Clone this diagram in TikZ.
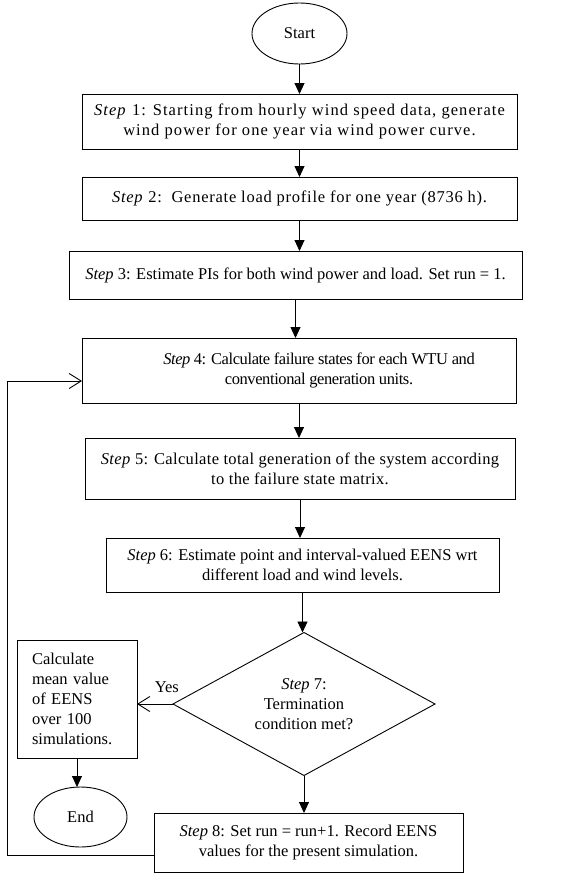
\documentclass[tikz,border=0pt]{standalone}
\usepackage{fontspec}
\setmainfont{Liberation Serif}
\usetikzlibrary{shapes.geometric,arrows.meta}
\begin{document}
\begin{tikzpicture}[x=1pt,y=-1pt,
  every node/.style={inner sep=0pt,outer sep=0pt,font=\fontsize{16.5}{20}\selectfont},
  box/.style={draw,line width=0.9pt,rectangle,align=center},
  oval/.style={draw,line width=0.9pt,ellipse},
  flow/.style={line width=0.9pt,-{Triangle[length=11pt,width=10pt]}},
  open/.style={line width=0.9pt,-{Straight Barb[length=12pt,width=15pt]}}]
\useasboundingbox (0,0) rectangle (561,875);
\node[oval,minimum width=95pt,minimum height=61pt] (start) at (299.5,33.5) {Start};
\node[box,minimum width=435pt,minimum height=55pt,font=\fontsize{16.5}{20}\selectfont\addfontfeature{LetterSpace=6.5}] (s1) at (299.5,121.5)
  {\textit{Step} 1: Starting from hourly wind speed data, generate\\wind power for one year via wind power curve.};
\node[box,minimum width=435pt,minimum height=43pt,font=\fontsize{16.5}{20}\selectfont\addfontfeature{LetterSpace=4.5}] (s2) at (299.5,198.5)
  {\textit{Step} 2:\ \ Generate load profile for one year (8736 h).};
\node[box,minimum width=453pt,minimum height=48pt] (s3) at (295.5,275)
  {\raisebox{3pt}{\textit{Step} 3: Estimate PIs for both wind power and load. Set run = 1.}};
\node[box,minimum width=434pt,minimum height=65pt,font=\fontsize{16.5}{20}\selectfont\addfontfeature{LetterSpace=-2.5}] (s4) at (299,370.5)
  {\hspace*{40pt}\textit{Step} 4: Calculate failure states for each WTU and\\\hspace*{40pt}conventional generation units.};
\node[box,minimum width=430pt,minimum height=61pt,font=\fontsize{16.5}{20}\selectfont\addfontfeature{LetterSpace=2}] (s5) at (300,468.5)
  {\textit{Step} 5: Calculate total generation of the system according\\to the failure state matrix.};
\node[box,minimum width=393pt,minimum height=54pt] (s6) at (302.5,565)
  {\textit{Step} 6: Estimate point and interval-valued EENS wrt\\different load and wind levels.};
\node[draw,line width=0.9pt,diamond,aspect=1.83,minimum width=262pt,minimum height=143pt,align=center] (d7) at (304,704)
  {\textit{Step} 7:\\Termination\\condition met?};
\node[box,minimum width=120pt,minimum height=118pt,align=left,text width=90pt] (calc) at (77,699)
  {Calculate\\mean value\\of EENS\\over 100\\simulations.};
\node[oval,minimum width=93pt,minimum height=60pt] (end) at (80.5,817) {End};
\node[box,minimum width=309pt,minimum height=59pt] (s8) at (308.5,842.5)
  {\textit{Step} 8: Set run = run+1. Record EENS\\values for the present simulation.};
\coordinate (fb1) at (154,855);
\coordinate (fb2) at (7,855);
\coordinate (fb3) at (7,381);
\draw[flow] (start.south) -- (start.south |- s1.north);
\draw[flow] (s1.south) -- (s1.south |- s2.north);
\draw[flow] (s2.south) -- (s2.south |- s3.north);
\draw[flow] (s3.south) -- (s3.south |- s4.north);
\draw[flow] (s4.south) -- (s4.south |- s5.north);
\draw[flow] (s5.south) -- (s5.south |- s6.north);
\draw[flow] (s6.south) -- (s6.south |- d7.north);
\draw[flow] (d7.south) -- (d7.south |- s8.north);
\draw[flow] (calc.south) -- (calc.south |- end.north);
\draw[open] (d7.west) -- node[pos=0.17,above=11pt] (yes) {Yes} (d7.west -| calc.east);
\draw[open] (s8.west |- fb1) -- (fb2) -- (fb3) -- (s4.west |- fb3);
\end{tikzpicture}
\end{document}
